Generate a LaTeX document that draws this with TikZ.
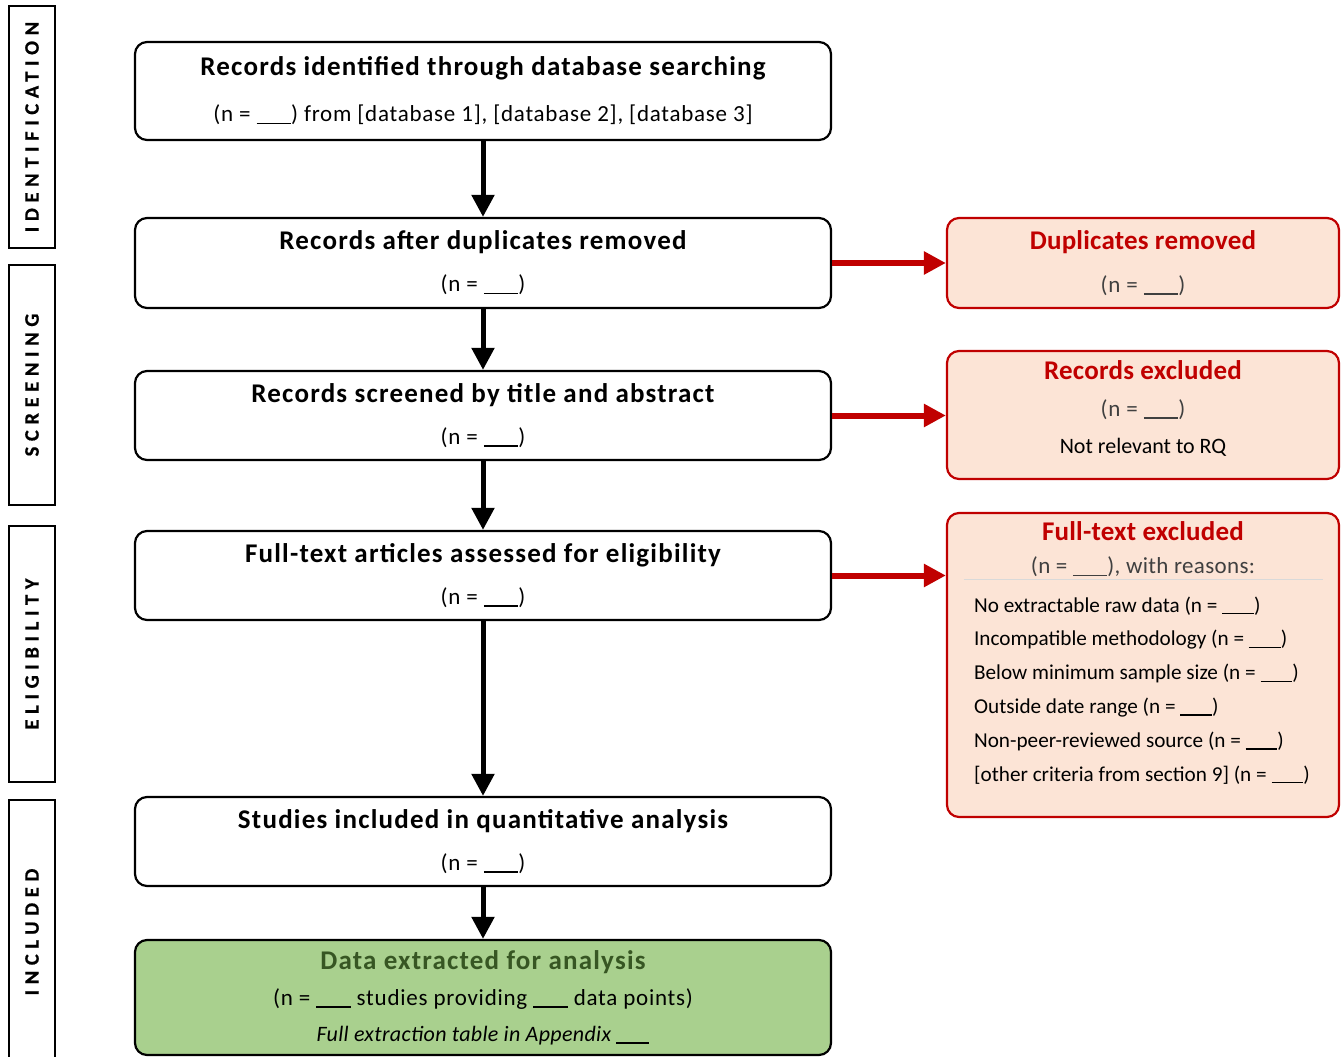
\documentclass[tikz,border=0pt]{standalone}
\usepackage{fontspec}
\setmainfont{Carlito}
\newfontfamily\sidefont[LetterSpace=27.5,BoldFeatures={FakeBold=0.6}]{Carlito}
\usetikzlibrary{arrows.meta,calc}
\definecolor{exred}{HTML}{C00000}
\definecolor{exfill}{HTML}{FCE4D6}
\definecolor{exgray}{HTML}{404040}
\definecolor{infill}{HTML}{A9D08E}
\definecolor{intext}{HTML}{375623}
\newcommand{\ttl}{\fontsize{27}{42}\selectfont\bfseries\addfontfeature{LetterSpace=4.5}}
\newcommand{\extl}{\fontsize{27}{42}\selectfont\bfseries\addfontfeature{LetterSpace=0.8}}
\newcommand{\blank}{\rule[-0.11em]{1.5em}{0.07em}}

\begin{document}
\begin{tikzpicture}[x=1pt,y=-1pt,
    mainbox/.style={draw,line width=2.2pt,rounded corners=12pt,minimum width=696pt,
        align=center,inner sep=0pt,font=\fontsize{23}{42}\selectfont\addfontfeature{LetterSpace=3.3}},
    exbox/.style={draw=exred,fill=exfill,line width=2.2pt,rounded corners=12pt,
        minimum width=392pt,align=center,inner sep=0pt,font=\fontsize{23}{42}\selectfont\addfontfeature{LetterSpace=3}},
    sidebox/.style={draw,line width=1.5pt,rotate=90,minimum height=46pt,inner sep=0pt,
        font=\sidefont\fontsize{20.5}{20.5}\selectfont\bfseries},
    flow/.style={line width=5pt,-{Triangle[length=22pt,width=22pt]}},
    exflow/.style={line width=6pt,draw=exred,-{Triangle[length=22pt,width=22pt]}}]
    \useasboundingbox (0,0) rectangle (1342,1057);
    % phase labels on the left
    \begin{scope}
        \clip (0,0) rectangle (1342,1057);
        \node[sidebox,minimum width=242pt] (identification) at (32,127) {IDENTIFICATION};
        \node[sidebox,minimum width=240pt] (screening) at (32,385) {SCREENING};
        \node[sidebox,minimum width=256pt] (eligibility) at (32,654) {ELIGIBILITY};
        \node[sidebox,minimum width=264pt] (included) at (32,932) {INCLUDED};
    \end{scope}
    % main flow
    \node[mainbox,minimum height=98pt,font=\fontsize{23}{46}\selectfont\addfontfeature{LetterSpace=3.3}] (ident) at (483,91)
        {{\ttl Records identified through database searching}\\
         (n = \blank) from {[}database 1{]}, {[}database 2{]}, {[}database 3{]}};
    \node[mainbox,minimum height=90pt] (dedup) at (483,263)
        {{\ttl Records after duplicates removed}\\(n = \blank)};
    \node[mainbox,minimum height=89pt] (screen) at (483,415.5)
        {{\ttl Records screened by title and abstract}\\(n = \blank)};
    \node[mainbox,minimum height=89pt] (fulltext) at (483,575.5)
        {{\ttl Full-text articles assessed for eligibility}\\(n = \blank)};
    \node[mainbox,minimum height=89pt] (quant) at (483,841.5)
        {{\ttl Studies included in quantitative analysis}\\(n = \blank)};
    \node[mainbox,minimum height=115pt,fill=infill,font=\fontsize{23}{36}\selectfont\addfontfeature{LetterSpace=3.3}] (extract) at (483,997.5)
        {{\ttl\color{intext}Data extracted for analysis}\\
         (n = \blank{} studies providing \blank{} data points)\\
         {\fontsize{22}{36}\selectfont\itshape\addfontfeature{LetterSpace=1.5}Full extraction table in Appendix \blank}};
    % exclusions on the right
    \node[exbox,minimum height=90pt,font=\fontsize{23}{43}\selectfont\addfontfeature{LetterSpace=3.3}] (dupx) at (1143,263)
        {{\extl\color{exred}Duplicates removed}\\{\color{exgray}(n = \blank)}};
    \node[exbox,minimum height=128pt,text depth=16pt,font=\fontsize{22}{37}\selectfont] (recx) at (1143,415)
        {{\extl\color{exred}Records excluded}\\{\fontsize{23}{37}\selectfont\addfontfeature{LetterSpace=3.3}\color{exgray}(n = \blank)}\\Not relevant to RQ};
    \node[exbox,minimum height=304pt] (fullx) at (1143,665) {};
    \node[font=\extl,text=exred] (fullxt) at ($(fullx.north)+(0,19)$) {Full-text excluded};
    \node[font=\fontsize{23}{25}\selectfont\addfontfeature{LetterSpace=1.5},text=exgray] (fullxn) at ($(fullx.north)+(0,55)$) {(n = \blank), with reasons:};
    \draw[line width=1pt,black!15] ($(fullx.north west)+(18,68)$) -- ($(fullx.north east)+(-17,68)$);
    \node[anchor=north west,align=left,inner sep=0pt,font=\fontsize{21.2}{33.8}\selectfont] (reasons)
        at ($(fullx.north west)+(28,84.5)$)
        {No extractable raw data (n = \blank)\\
         Incompatible methodology (n = \blank)\\
         Below minimum sample size (n = \blank)\\
         Outside date range (n = \blank)\\
         Non-peer-reviewed source (n = \blank)\\
         {[}other criteria from section 9{]} (n = \blank)};
    % connectors
    \draw[flow] (ident) -- (dedup);
    \draw[flow] (dedup) -- (screen);
    \draw[flow] (screen) -- (fulltext);
    \draw[flow] (fulltext) -- (quant);
    \draw[flow] (quant) -- (extract);
    \draw[exflow] (dedup.east) -- (dupx.west);
    \draw[exflow] (screen.east) -- (screen.east -| recx.west);
    \draw[exflow] (fulltext.east) -- (fulltext.east -| fullx.west);
\end{tikzpicture}
\end{document}
